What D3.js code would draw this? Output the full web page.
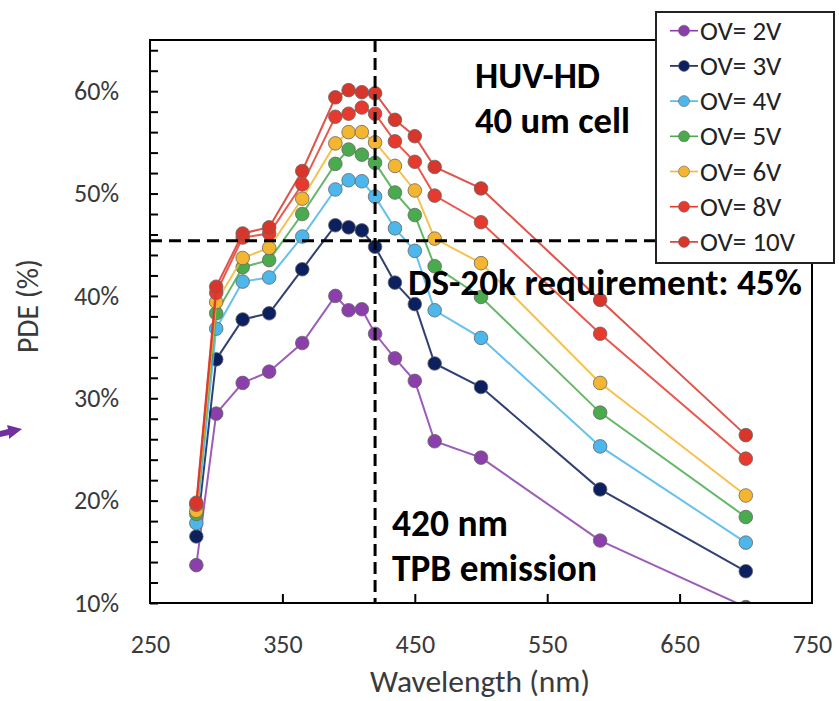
<!DOCTYPE html>
<html>
<head>
<meta charset="utf-8">
<script src="https://cdn.jsdelivr.net/npm/d3@7"></script>
<style>
  html, body { margin: 0; padding: 0; background: #fff; }
  svg { display: block; }
</style>
</head>
<body>
<svg id="chart" width="839" height="701"></svg>
<script>
// ---------------- data ----------------
const wavelengths = [285, 300, 320, 340, 365, 390, 400, 410, 420, 435, 450, 465, 500, 590, 700];
const seriesNames = ["OV= 2V", "OV= 3V", "OV= 4V", "OV= 5V", "OV= 6V", "OV= 8V", "OV= 10V"];
const ov2  = [13.7, 28.5, 31.5, 32.6, 35.4, 40.0, 38.6, 38.7, 36.3, 33.9, 31.7, 25.8, 24.2, 16.1, 9.6];
const ov3  = [16.5, 33.8, 37.7, 38.3, 42.6, 46.9, 46.7, 46.4, 44.8, 41.3, 39.2, 33.4, 31.1, 21.1, 13.1];
const ov4  = [17.8, 36.8, 41.4, 41.8, 45.8, 50.4, 51.3, 51.2, 49.7, 46.6, 44.4, 38.6, 35.9, 25.3, 15.9];
const ov5  = [18.7, 38.3, 42.8, 43.5, 48.0, 52.9, 54.3, 53.8, 53.0, 50.1, 47.9, 42.9, 39.9, 28.6, 18.4];
const ov6  = [19.0, 39.4, 43.7, 44.7, 49.5, 54.9, 56.0, 56.0, 55.0, 52.7, 50.3, 45.6, 43.2, 31.5, 20.5];
const ov8  = [19.6, 40.3, 45.7, 46.1, 50.9, 57.5, 57.8, 58.4, 57.8, 55.1, 53.1, 49.8, 47.2, 36.3, 24.1];
const ov10 = [19.8, 40.9, 46.1, 46.7, 52.2, 59.4, 60.1, 59.9, 59.8, 57.2, 55.6, 52.6, 50.5, 39.6, 26.4];
const seriesValues = [ov2, ov3, ov4, ov5, ov6, ov8, ov10];
const seriesColors = ["#8b3fab", "#0c1f5e", "#4db6ea", "#4aaa4e", "#f4b630", "#e8392e", "#d8352b"];
const xTickValues = [250, 350, 450, 550, 650, 750];
const yTickValues = [10, 20, 30, 40, 50, 60];
const requirementPDE = 45.4;   // drawn position of the DS-20k requirement line
const tpbWavelength = 420;

// ---------------- layout ----------------
const svg = d3.select("#chart");
const pL = 150, pR = 812, pT = 40, pB = 603;
const x = d3.scaleLinear().domain([250, 750]).range([pL, pR]);
const y = d3.scaleLinear().domain([10, 65]).range([pB, pT]);
const labelFont = "Carlito, Calibri, Lato, 'Open Sans', sans-serif";

function fitText(sel, w) {
  const len = sel.node().getComputedTextLength();
  const fs = parseFloat(sel.attr("font-size"));
  sel.attr("font-size", fs * w / len);
}

svg.append("defs").append("clipPath").attr("id", "plotclip")
  .append("rect").attr("x", pL).attr("y", pT).attr("width", pR - pL).attr("height", pB - pT);

// ticks (inward) via d3 axes
const yMinor = d3.range(10, 65, 2);
svg.append("g").attr("transform", `translate(${pL},0)`)
  .call(d3.axisRight(y).tickValues(yMinor).tickSize(8).tickFormat(""))
  .call(g => g.select(".domain").remove())
  .call(g => g.selectAll("line").attr("stroke", "#000").attr("stroke-width", 2));
svg.append("g").attr("transform", `translate(0,${pB})`)
  .call(d3.axisTop(x).tickValues([350, 450, 550, 650]).tickSize(9).tickFormat(""))
  .call(g => g.select(".domain").remove())
  .call(g => g.selectAll("line").attr("stroke", "#000").attr("stroke-width", 2));

// tick labels via axes
svg.append("g").attr("transform", `translate(119,0)`)
  .call(d3.axisLeft(y).tickValues(yTickValues).tickSize(0).tickPadding(0).tickFormat(d => d + "%"))
  .call(g => g.select(".domain").remove())
  .call(g => g.selectAll("text").attr("fill", "#3a3a3a").attr("font-size", 26).attr("font-family", labelFont));
svg.append("g").attr("transform", `translate(0,${pB + 32})`)
  .call(d3.axisBottom(x).tickValues(xTickValues).tickSize(0).tickPadding(0).tickFormat(d3.format("d")))
  .call(g => g.select(".domain").remove())
  .call(g => g.selectAll("text").attr("fill", "#3a3a3a").attr("font-size", 26).attr("font-family", labelFont));

// axis titles
const xt = svg.append("text").attr("x", 480).attr("y", 692).attr("text-anchor", "middle")
  .attr("font-family", labelFont).attr("font-size", 25).attr("fill", "#3a3a3a").text("Wavelength (nm)");
fitText(xt, 220);
const yt = svg.append("text").attr("transform", "translate(38,306) rotate(-90)").attr("text-anchor", "middle")
  .attr("font-family", labelFont).attr("font-size", 25).attr("fill", "#3a3a3a").text("PDE (%)");
fitText(yt, 94);

// series
const line = d3.line().x((d, i) => x(wavelengths[i])).y(d => y(d));
const plot = svg.append("g").attr("clip-path", "url(#plotclip)");
seriesValues.forEach((vals, k) => {
  const g = plot.append("g");
  g.append("path").datum(vals).attr("d", line).attr("fill", "none")
    .attr("stroke", seriesColors[k]).attr("stroke-width", 2).attr("stroke-opacity", 0.85);
  g.selectAll("circle").data(vals).join("circle")
    .attr("cx", (d, i) => x(wavelengths[i])).attr("cy", d => y(d)).attr("r", 6.8)
    .attr("fill", seriesColors[k]).attr("stroke", "#666").attr("stroke-width", 0.8);
});

// dashed reference lines
svg.append("line").attr("x1", x(tpbWavelength)).attr("x2", x(tpbWavelength)).attr("y1", pT).attr("y2", pB)
  .attr("stroke", "#000").attr("stroke-width", 3).attr("stroke-dasharray", "12,6");
svg.append("line").attr("x1", pL).attr("x2", 660).attr("y1", y(requirementPDE)).attr("y2", y(requirementPDE))
  .attr("stroke", "#000").attr("stroke-width", 3).attr("stroke-dasharray", "12,7");

// frame
svg.append("rect").attr("x", pL).attr("y", pT).attr("width", pR - pL).attr("height", pB - pT)
  .attr("fill", "none").attr("stroke", "#000").attr("stroke-width", 2);

// annotations (bold)
const boldFont = "Carlito, Calibri, 'Open Sans', Lato, sans-serif";
const ann = [
  ["HUV-HD", 475, 88, 125],
  ["40 um cell", 475, 133, 155],
  ["DS-20k requirement: 45%", 408, 295, 394],
  ["420 nm", 392, 536, 116],
  ["TPB emission", 392, 581, 205]
];
ann.forEach(a => {
  const t = svg.append("text").attr("x", a[1]).attr("y", a[2]).attr("font-family", boldFont)
    .attr("font-weight", "bold").attr("font-size", 28).attr("fill", "#000").text(a[0]);
  fitText(t, a[3]);
});

// legend
const lg = svg.append("g");
lg.append("rect").attr("x", 656).attr("y", 12).attr("width", 178).attr("height", 251)
  .attr("fill", "#fff").attr("stroke", "#222").attr("stroke-width", 2);
seriesNames.forEach((name, k) => {
  const cy = 30.7 + k * 35.2;
  lg.append("line").attr("x1", 670).attr("x2", 698).attr("y1", cy).attr("y2", cy)
    .attr("stroke", seriesColors[k]).attr("stroke-width", 1.6);
  lg.append("circle").attr("cx", 684).attr("cy", cy).attr("r", 5.5)
    .attr("fill", seriesColors[k]).attr("stroke", "#666").attr("stroke-width", 0.6);
  lg.append("text").attr("x", 700).attr("y", cy + 9).attr("font-family", labelFont)
    .attr("font-size", 27).attr("fill", "#222").text(name);
});

// small purple arrow at left edge
svg.append("path")
  .attr("d", "M0,431 L8,429 L7,425 L22,429 L9,439 L9,435 L0,437 Z")
  .attr("fill", "#7030a0");
</script>
</body>
</html>
